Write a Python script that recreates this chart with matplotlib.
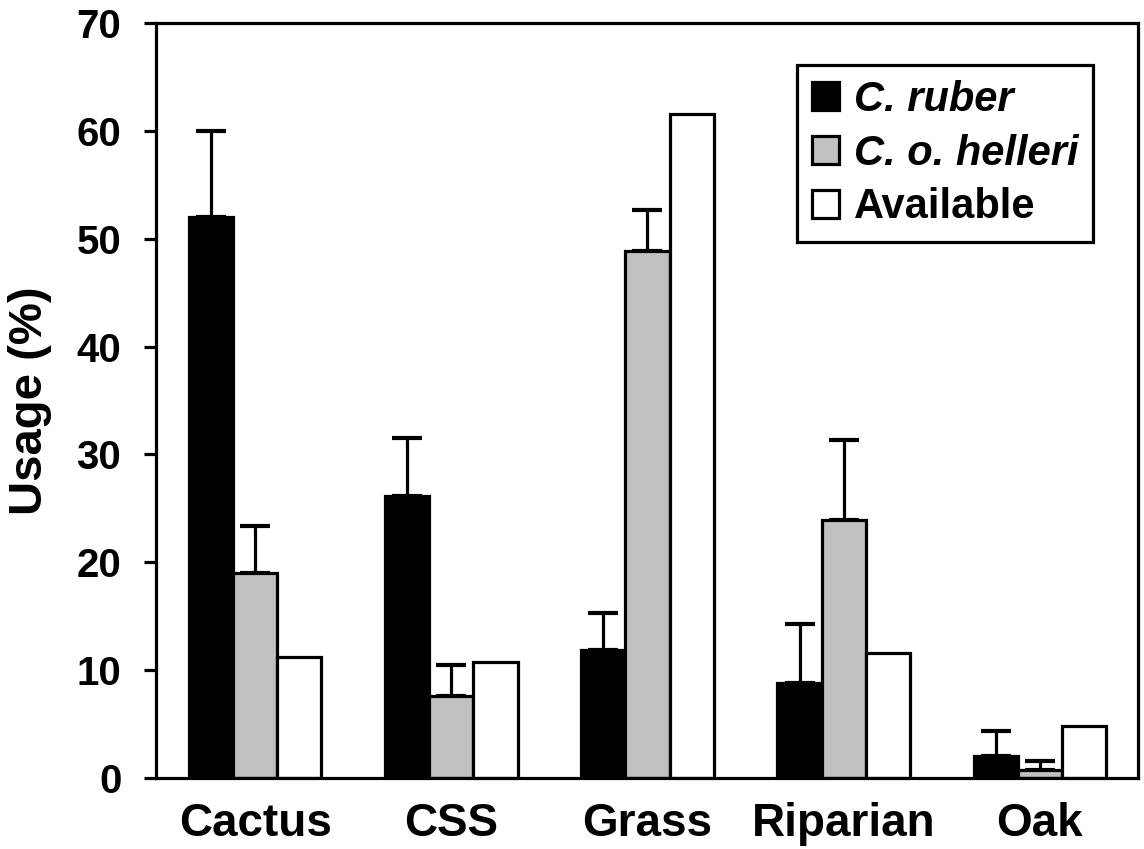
import matplotlib
matplotlib.use('Agg')
import matplotlib.pyplot as plt
import numpy as np

categories = ['Cactus', 'CSS', 'Grass', 'Riparian', 'Oak']
ruber = [52.0, 26.1, 11.9, 8.8, 2.0]
ruber_err = [8.0, 5.4, 3.4, 5.5, 2.4]
helleri = [19.0, 7.6, 48.9, 23.9, 0.7]
helleri_err = [4.4, 2.9, 3.8, 7.4, 0.9]
available = [11.2, 10.8, 61.6, 11.6, 4.8]
series_names = ['C. ruber', 'C. o. helleri', 'Available']

plt.rcParams['font.family'] = ['Liberation Sans', 'DejaVu Sans']
plt.rcParams['font.weight'] = 'bold'

fig = plt.figure(figsize=(11.44, 8.49), dpi=100)
ax = fig.add_axes([156 / 1144, 71 / 849, 982 / 1144, 755 / 849])

x = np.arange(len(categories))
w = 0.225
lw = 2.3
colors = ['black', '#c0c0c0', 'white']
values = [ruber, helleri, available]
errors = [ruber_err, helleri_err, None]

for i, (vals, err, col, name) in enumerate(zip(values, errors, colors, series_names)):
    pos = x + (i - 1) * w
    ax.bar(pos, vals, width=w, color=col, edgecolor='black', linewidth=lw, label=name, zorder=2)
    if err is not None:
        # upper half only
        ax.errorbar(pos, vals, yerr=[np.zeros(len(err)), err], fmt='none', ecolor='black',
                    elinewidth=2.3, capsize=11, capthick=3, zorder=1)

ax.set_xlim(-0.505, 4.5)
ax.set_ylim(0, 70)
ax.set_yticks(np.arange(0, 71, 10))
ax.set_xticks(x)
ax.set_xticklabels(categories, fontsize=33, fontweight='bold')
ax.tick_params(axis='x', length=0, pad=17)
ax.tick_params(axis='y', length=9, width=2.3, direction='out', labelsize=29, pad=16)
for lab in ax.get_yticklabels():
    lab.set_fontweight('bold')
for sp in ax.spines.values():
    sp.set_linewidth(2.3)

ax.set_ylabel('Usage (%)', fontsize=34, fontweight='bold', va='center')
ax.yaxis.set_label_coords(-0.128, 0.5)

leg = ax.legend(loc='upper right', bbox_to_anchor=(0.954, 0.944), borderaxespad=0,
                fancybox=False, edgecolor='black', framealpha=1, fontsize=30,
                handlelength=0.65, handleheight=0.65, handletextpad=0.35,
                labelspacing=0.33, borderpad=0.35)
leg.get_frame().set_linewidth(2.3)
for t, style in zip(leg.get_texts(), ['italic', 'italic', 'normal']):
    t.set_fontstyle(style)
    t.set_fontweight('bold')

fig.savefig('out.png', dpi=100)
